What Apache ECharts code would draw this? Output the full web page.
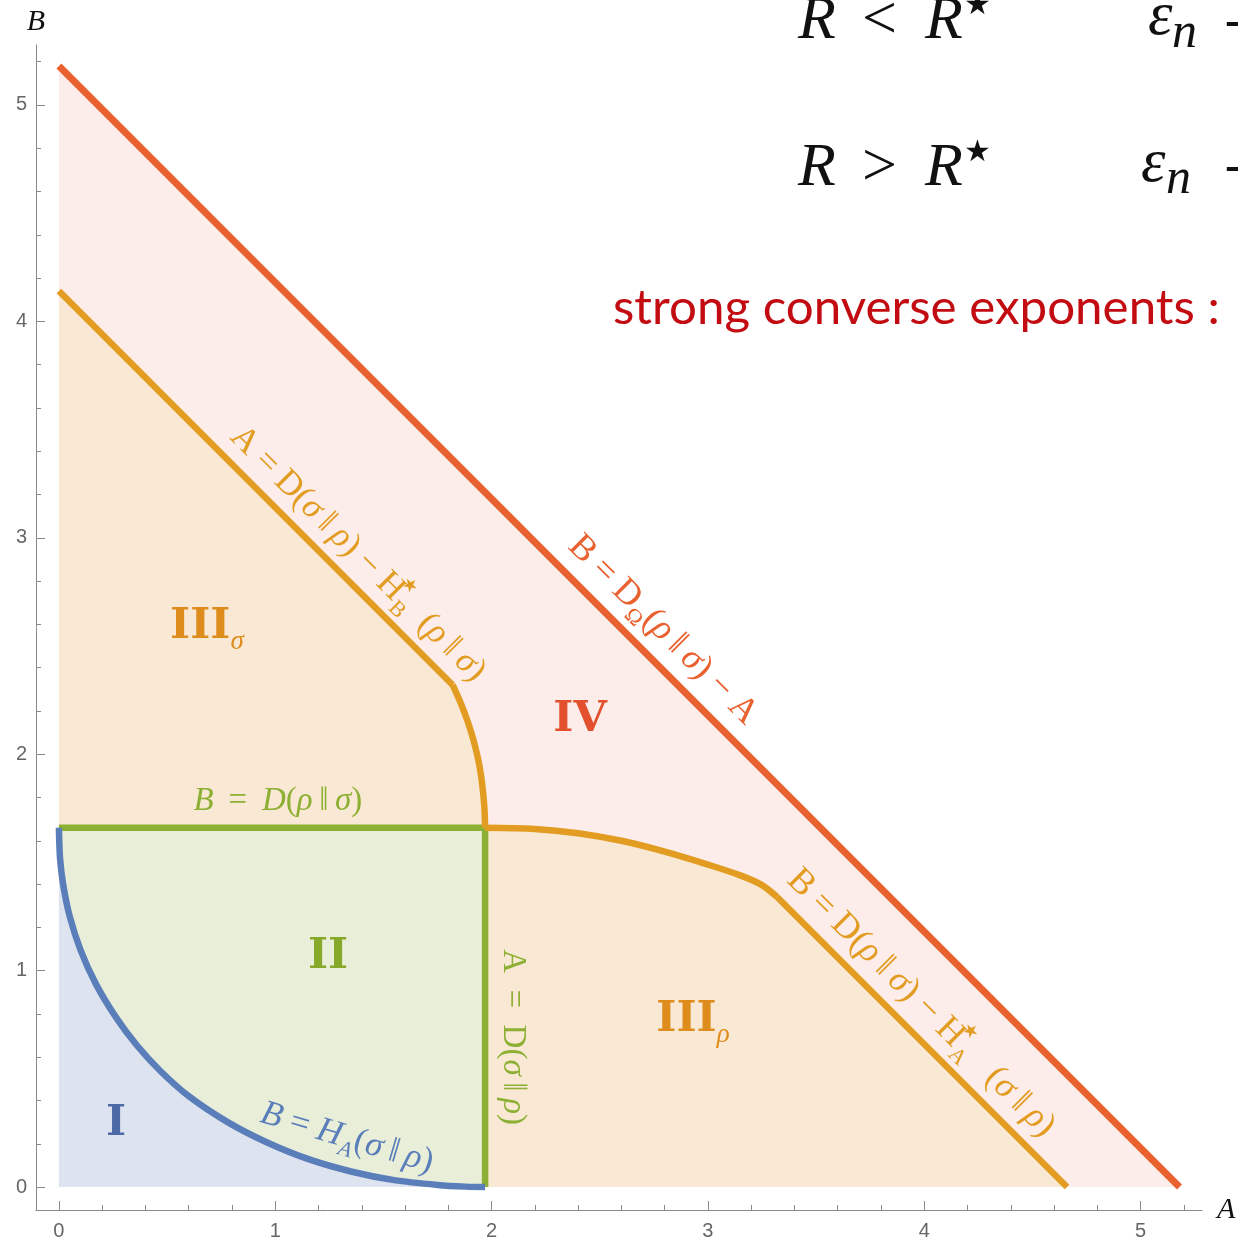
<!DOCTYPE html>
<html>
<head>
<meta charset="utf-8">
<script src="https://cdn.jsdelivr.net/npm/echarts@6/dist/echarts.min.js"></script>
<style>
  html, body { margin: 0; padding: 0; background: #ffffff; }
  #chart { width: 1238px; height: 1240px; }
</style>
</head>
<body>
<div id="chart"></div>
<script>
// ---- region boundaries in the (A, B) exponent plane ----
const dRhoSigma = 1.66;   // B = D(rho||sigma)
const dSigmaRho = 1.97;   // A = D(sigma||rho)

// B = D_Omega(rho||sigma) - A
const redEdge = [[0, 5.18], [5.18, 0]];

// outer boundary of regions III_sigma / III_rho
const orangeEdge = [
  [0, 4.14], [1.82, 2.32], [1.86, 2.23], [1.89, 2.15], [1.915, 2.07], [1.935, 1.99],
  [1.95, 1.91], [1.96, 1.83], [1.967, 1.75], [1.97, 1.66],
  [2.2, 1.655], [2.4, 1.635], [2.6, 1.60], [2.8, 1.55], [3.0, 1.49], [3.15, 1.44],
  [3.25, 1.395], [3.32, 1.34], [4.66, 0]
];

// boundary of region II
const greenEdge = [[0, dRhoSigma], [dSigmaRho, dRhoSigma], [dSigmaRho, 0]];

// B = H_A(sigma||rho)
const blueEdge = [
  [0, 1.66], [0.005, 1.52], [0.02, 1.395], [0.05, 1.25], [0.1, 1.095], [0.17, 0.94],
  [0.26, 0.79], [0.36, 0.655], [0.47, 0.535], [0.6, 0.42], [0.78, 0.3], [0.96, 0.207],
  [1.15, 0.13], [1.35, 0.072], [1.55, 0.032], [1.75, 0.01], [1.88, 0.002], [1.97, 0]
];

const majorTicks = [0, 1, 2, 3, 4, 5];
const minorTicks = [0.2, 0.4, 0.6, 0.8, 1.2, 1.4, 1.6, 1.8, 2.2, 2.4, 2.6, 2.8,
  3.2, 3.4, 3.6, 3.8, 4.2, 4.4, 4.6, 4.8, 5.2];

// ---- styling ----
const LINE = { red: '#e9612f', orange: '#e39c22', green: '#8db034', blue: '#5a7eb9' };
const FILL = { red: '#fcedea', orange: '#f9e9d4', green: '#e9eed8', blue: '#dde3ef' };
const TAG = { red: '#e2502d', orange: '#de8d1c', green: '#86a92a', blue: '#4c6ba6' };
const SERIF = '"Liberation Serif", "DejaVu Serif", serif';
const AXIS_GRAY = '#8a8a8a';

const chart = echarts.init(document.getElementById('chart'), null, { renderer: 'canvas' });

function fillSeries(data, color) {
  return {
    type: 'line', data, showSymbol: false, symbol: 'none', silent: true,
    lineStyle: { width: 0 }, areaStyle: { color, opacity: 1, origin: 'auto' }, z: 1
  };
}
function edgeSeries(data, color, width, smooth) {
  return {
    type: 'line', data, showSymbol: false, symbol: 'none', silent: true, smooth: smooth || false,
    lineStyle: { color, width, join: 'round', cap: 'butt' }, z: 3
  };
}

function xAxisDef(ticks, len, main) {
  return {
    type: 'value', min: -0.106, max: 5.284, position: 'bottom',
    axisLine: { show: main, onZero: false, lineStyle: { color: AXIS_GRAY, width: 1 } },
    axisTick: { show: true, inside: true, length: len, customValues: ticks, lineStyle: { color: AXIS_GRAY, width: 1 } },
    axisLabel: main ? { show: true, customValues: ticks, margin: 11, fontSize: 20, color: '#666', fontFamily: '"Liberation Sans", Arial, sans-serif' } : { show: false },
    splitLine: { show: false },
    name: main ? 'A' : '', nameLocation: 'end', nameGap: 15,
    nameTextStyle: { fontFamily: SERIF, fontStyle: 'italic', fontSize: 30, color: '#111' }
  };
}
function yAxisDef(ticks, len, main) {
  return {
    type: 'value', min: -0.106, max: 5.277, position: 'left',
    axisLine: { show: main, onZero: false, lineStyle: { color: AXIS_GRAY, width: 1 } },
    axisTick: { show: true, inside: true, length: len, customValues: ticks, lineStyle: { color: AXIS_GRAY, width: 1 } },
    axisLabel: main ? { show: true, customValues: ticks, margin: 9, fontSize: 20, color: '#666', fontFamily: '"Liberation Sans", Arial, sans-serif' } : { show: false },
    splitLine: { show: false },
    name: main ? 'B' : '', nameLocation: 'end', nameGap: 8,
    nameTextStyle: { fontFamily: SERIF, fontStyle: 'italic', fontSize: 30, color: '#111' }
  };
}

// the orange boundary has two corners and a cusp; stroke each piece separately
const orangeUpperLine = orangeEdge.slice(0, 2);
const orangeUpperBend = orangeEdge.slice(1, 10);
const orangeLowerBend = orangeEdge.slice(9, 18);
const orangeLowerLine = orangeEdge.slice(17);

chart.setOption({
  animation: false,
  backgroundColor: '#ffffff',
  grid: { left: 36, right: 36, top: 45, bottom: 30, containLabel: false, outerBoundsMode: 'none' },
  xAxis: [xAxisDef(majorTicks, 9, true), xAxisDef(minorTicks, 5, false)],
  yAxis: [yAxisDef(majorTicks, 9, true), yAxisDef(minorTicks, 5, false)],
  series: [
    fillSeries(redEdge, FILL.red),
    fillSeries(orangeEdge, FILL.orange),
    fillSeries(greenEdge, FILL.green),
    fillSeries(blueEdge, FILL.blue),
    edgeSeries(greenEdge, LINE.green, 6.5),
    edgeSeries(orangeUpperLine, LINE.orange, 6.5),
    edgeSeries(orangeUpperBend, LINE.orange, 6.5, 0.3),
    edgeSeries(orangeLowerBend, LINE.orange, 6.5, 0.3),
    edgeSeries(orangeLowerLine, LINE.orange, 6.5),
    edgeSeries(blueEdge, LINE.blue, 6.5, 0.3),
    edgeSeries(redEdge, LINE.red, 7)
  ]
});

// ---- curve and region annotations ----
function mathRich(size, color) {
  const lh = Math.round(size * 1.3);
  return {
    i: { fontFamily: SERIF, fontStyle: 'italic', fontSize: size, fill: color, lineHeight: lh },
    r: { fontFamily: SERIF, fontSize: size, fill: color, lineHeight: lh },
    sub: { fontFamily: SERIF, fontStyle: 'italic', fontSize: Math.round(size * 0.62), fill: color, verticalAlign: 'bottom', lineHeight: Math.round(size * 0.7) },
    subr: { fontFamily: SERIF, fontSize: Math.round(size * 0.62), fill: color, verticalAlign: 'bottom', lineHeight: Math.round(size * 0.7) },
    star: { fontFamily: '"DejaVu Sans", sans-serif', fontSize: Math.round(size * 0.5), fill: color, verticalAlign: 'top', lineHeight: Math.round(size * 0.62), width: 1 }
  };
}
function tagRich(size, color) {
  return {
    b: { fontFamily: '"DejaVu Serif", serif', fontWeight: 'bold', fontSize: size, fill: color, lineHeight: Math.round(size * 1.3) },
    s: { fontFamily: SERIF, fontStyle: 'italic', fontSize: Math.round(size * 0.62), fill: color, verticalAlign: 'bottom', lineHeight: Math.round(size * 0.78) }
  };
}

const T = '\u2009';  // thin space around the norm bars
const curveLabels = [
  { text: '{i|B}{r| ' + T + '= ' + T + '}{i|D}{r|(}{i|ρ}{r|' + T + '‖' + T + '}{i|σ}{r|)}', at: [1.012, 1.784], angle: 0, color: LINE.green, size: 33 },
  { text: '{r|A  =  D(}{i|σ}{r|' + T + '‖' + T + '}{i|ρ}{r|)}', at: [2.099, 0.693], angle: -90, color: LINE.green, size: 33 },
  { text: '{i|B}{r| = }{i|H}{sub|A}{r|(}{i|σ}{r|' + T + '‖' + T + '}{i|ρ}{r|)}', at: [1.331, 0.226], angle: -16.5, color: LINE.blue, size: 35 },
  { text: '{r|A = D(}{i|σ}{r|' + T + '‖' + T + '}{i|ρ}{r|) − H}{star|★}{subr|B}{r|  (}{i|ρ}{r|' + T + '‖' + T + '}{i|σ}{r|)}', at: [1.382, 2.925], angle: -45, color: LINE.orange, size: 35 },
  { text: '{r|B = D}{subr|Ω}{r|(}{i|ρ}{r|' + T + '‖' + T + '}{i|σ}{r|) − A}', at: [2.792, 2.574], angle: -45, color: LINE.red, size: 36 },
  { text: '{r|B = D(}{i|ρ}{r|' + T + '‖' + T + '}{i|σ}{r|) − H}{star|★}{subr|A}{r|   (}{i|σ}{r|' + T + '‖' + T + '}{i|ρ}{r|)}', at: [3.985, 0.85], angle: -45, color: LINE.orange, size: 36 }
];

const regionTags = [
  { text: '{b|I}', at: [0.264, 0.291], color: TAG.blue },
  { text: '{b|II}', at: [1.244, 1.063], color: TAG.green },
  { text: '{b|III}{s|σ}', at: [0.684, 2.588], color: TAG.orange },
  { text: '{b|III}{s|ρ}', at: [2.931, 0.772], color: TAG.orange },
  { text: '{b|IV}', at: [2.409, 2.158], color: TAG.red }
];

const graphics = [];
curveLabels.forEach(function (l) {
  const p = chart.convertToPixel({ xAxisIndex: 0, yAxisIndex: 0 }, l.at);
  graphics.push({
    type: 'text', x: p[0], y: p[1], rotation: l.angle * Math.PI / 180, z: 10, silent: true,
    style: { text: l.text, rich: mathRich(l.size, l.color), align: 'center', verticalAlign: 'middle' }
  });
});
regionTags.forEach(function (t) {
  const p = chart.convertToPixel({ xAxisIndex: 0, yAxisIndex: 0 }, t.at);
  graphics.push({
    type: 'text', x: p[0], y: p[1], z: 10, silent: true,
    style: { text: t.text, rich: tagRich(43, t.color), align: 'center', verticalAlign: 'middle' }
  });
});

// ---- heading text in the upper right ----
const big = { fontFamily: SERIF, fontStyle: 'italic', fontSize: 62, fill: '#111' };
function head(text, x, y, extra) {
  return { type: 'text', x, y, z: 20, silent: true,
    style: Object.assign({ text, align: 'left', verticalAlign: 'middle' }, big, extra || {}) };
}
graphics.push(
  head('R', 798, 22), head('<', 862, 22, { fontStyle: 'normal' }), head('R', 925, 22),
  head('★', 964, 6, { fontStyle: 'normal', fontSize: 30, fontFamily: '"DejaVu Sans", sans-serif' }),
  head('ε', 1148, 18), head('n', 1172, 34, { fontSize: 50 }),
  head('→', 1224, 27, { fontStyle: 'normal', fontFamily: '"DejaVu Sans", sans-serif', fontSize: 48 }),
  head('R', 798, 169), head('>', 862, 169, { fontStyle: 'normal' }), head('R', 925, 169),
  head('★', 964, 153, { fontStyle: 'normal', fontSize: 30, fontFamily: '"DejaVu Sans", sans-serif' }),
  head('ε', 1141, 165), head('n', 1166, 180, { fontSize: 50 }),
  head('→', 1224, 172, { fontStyle: 'normal', fontFamily: '"DejaVu Sans", sans-serif', fontSize: 48 }),
  { type: 'text', x: 613, y: 308, z: 20, silent: true,
    style: { text: 'strong converse exponents :', align: 'left', verticalAlign: 'middle',
      fontFamily: 'Lato, "Open Sans", sans-serif', fontSize: 49.3, fill: '#c30b12' } }
);

chart.setOption({ graphic: graphics });
</script>
</body>
</html>
